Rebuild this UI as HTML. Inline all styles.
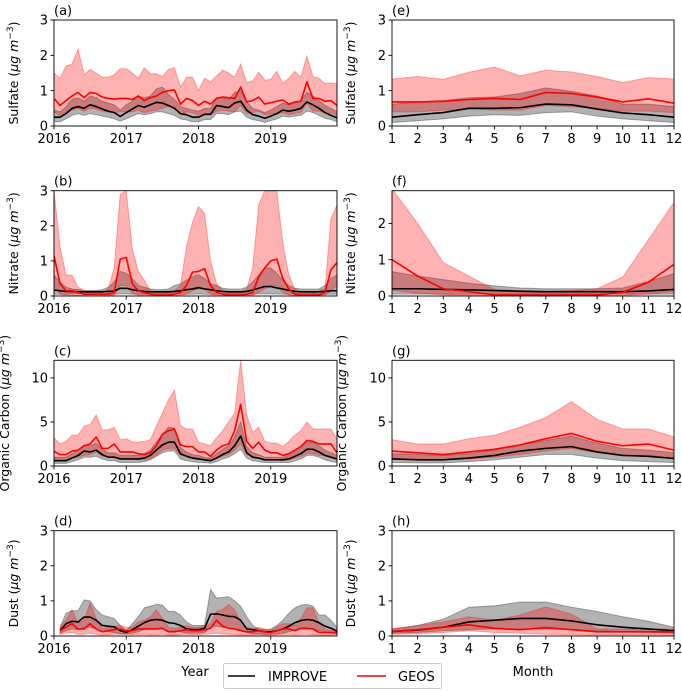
<!DOCTYPE html>
<html><head><meta charset="utf-8"><style>
body{margin:0;background:#fff}
svg{display:block;font-family:"DejaVu Sans","Liberation Sans",sans-serif}
</style></head><body>
<svg id="fig" width="682" height="691" viewBox="0 0 682 691" xmlns="http://www.w3.org/2000/svg"></svg>
<script>
// ---- categories ----
const yearTicks = [2016, 2017, 2018, 2019];
const monthTicks = [1,2,3,4,5,6,7,8,9,10,11,12];
const months = [1,2,3,4,5,6,7,8,9,10,11,12];

// ---- (a) Sulfate time series ----
const sulfImpMean = [0.25,0.25,0.35,0.5,0.55,0.5,0.6,0.55,0.48,0.42,0.38,0.27, 0.38,0.48,0.58,0.53,0.6,0.67,0.65,0.58,0.5,0.35,0.32,0.25, 0.25,0.33,0.33,0.58,0.55,0.52,0.65,0.7,0.45,0.32,0.28,0.22, 0.28,0.35,0.45,0.42,0.45,0.5,0.68,0.6,0.5,0.38,0.3,0.23];
const sulfImpHi = [0.45,0.4,0.55,0.75,0.8,0.7,0.85,0.8,0.7,0.65,0.6,0.45, 0.6,0.7,0.85,0.8,0.85,1.05,1.1,0.9,0.75,0.55,0.5,0.45, 0.42,0.5,0.5,0.8,0.8,0.75,0.95,1.0,0.68,0.5,0.45,0.38, 0.45,0.55,0.65,0.6,0.65,0.72,0.95,0.85,0.72,0.58,0.5,0.4];
const sulfImpLo = [0.12,0.12,0.2,0.3,0.35,0.3,0.35,0.32,0.28,0.25,0.2,0.14, 0.2,0.28,0.35,0.32,0.35,0.4,0.4,0.35,0.3,0.2,0.17,0.12, 0.12,0.18,0.18,0.35,0.35,0.32,0.4,0.42,0.25,0.18,0.15,0.1, 0.15,0.2,0.28,0.25,0.28,0.3,0.42,0.38,0.3,0.22,0.18,0.12];
const sulfGeosMean = [0.78,0.58,0.72,0.85,0.95,0.8,0.95,0.92,0.82,0.78,0.76,0.78, 0.78,0.75,0.85,0.72,0.8,0.85,0.95,1.0,1.02,0.62,0.78,0.72, 0.58,0.7,0.62,0.78,0.82,0.8,0.78,1.1,0.68,0.72,0.82,0.62, 0.66,0.7,0.74,0.62,0.68,0.7,1.25,0.78,0.78,0.7,0.72,0.58];
const sulfGeosHi = [1.5,1.35,1.7,1.75,2.18,1.45,1.6,1.5,1.38,1.38,1.45,1.62, 1.62,1.5,1.35,1.65,1.48,1.48,1.4,1.6,1.65,1.1,1.38,1.38, 1.0,1.35,1.25,1.42,1.58,1.5,1.38,1.75,1.22,1.28,1.52,1.3, 1.32,1.55,1.2,1.35,1.55,1.38,1.98,1.4,1.35,1.2,1.22,1.2];
const sulfGeosLo = [0.4,0.3,0.38,0.45,0.5,0.42,0.5,0.48,0.42,0.4,0.38,0.4, 0.4,0.4,0.45,0.38,0.42,0.45,0.5,0.55,0.55,0.32,0.4,0.38, 0.3,0.36,0.32,0.42,0.45,0.42,0.4,0.58,0.35,0.38,0.42,0.32, 0.34,0.36,0.38,0.32,0.36,0.38,0.65,0.42,0.42,0.36,0.38,0.3];

// ---- (b) Nitrate time series ----
const nitImpMean = [0.17,0.15,0.13,0.13,0.12,0.12,0.12,0.12,0.12,0.13,0.14,0.22, 0.22,0.18,0.15,0.13,0.12,0.12,0.12,0.12,0.13,0.15,0.18,0.2, 0.24,0.2,0.18,0.15,0.13,0.12,0.12,0.12,0.13,0.17,0.22,0.27, 0.27,0.23,0.2,0.16,0.13,0.12,0.12,0.12,0.12,0.13,0.15,0.15];
const nitImpHi = [0.6,0.4,0.25,0.2,0.18,0.16,0.16,0.16,0.18,0.25,0.4,0.7, 0.65,0.5,0.3,0.25,0.2,0.18,0.18,0.2,0.3,0.35,0.45,0.55, 0.6,0.5,0.35,0.3,0.22,0.2,0.2,0.2,0.25,0.4,0.6,0.8, 0.8,0.65,0.45,0.3,0.22,0.2,0.2,0.2,0.2,0.3,0.5,0.6];
const nitImpLo = [0.05,0.05,0.05,0.06,0.06,0.06,0.06,0.06,0.06,0.05,0.05,0.06, 0.06,0.05,0.05,0.05,0.06,0.06,0.06,0.06,0.06,0.05,0.05,0.05, 0.06,0.05,0.05,0.05,0.06,0.06,0.06,0.06,0.05,0.05,0.06,0.06, 0.06,0.06,0.05,0.05,0.06,0.06,0.06,0.06,0.05,0.05,0.05,0.05];
const nitGeosMean = [1.15,0.35,0.15,0.15,0.1,0.05,0.05,0.05,0.05,0.05,0.1,1.05, 1.1,0.35,0.15,0.1,0.05,0.03,0.03,0.03,0.05,0.1,0.3,0.68, 0.7,0.78,0.3,0.1,0.05,0.03,0.03,0.03,0.05,0.1,0.55,0.8, 1.0,1.05,0.5,0.2,0.05,0.03,0.03,0.03,0.03,0.1,0.75,0.95];
const nitGeosHi = [3.0,1.4,0.6,0.6,0.25,0.15,0.1,0.1,0.1,0.2,0.8,2.9, 3.0,1.35,0.7,0.45,0.15,0.1,0.08,0.1,0.15,0.3,1.4,2.1, 2.55,2.35,1.0,0.35,0.15,0.1,0.08,0.1,0.2,0.8,2.6,3.0, 3.0,3.0,1.5,0.6,0.2,0.1,0.08,0.08,0.15,0.2,2.2,2.6];
const nitGeosLo = [0.3,0.05,0.02,0.02,0.01,0.01,0.01,0.01,0.01,0.01,0.02,0.3, 0.3,0.08,0.02,0.02,0.01,0.01,0.01,0.01,0.01,0.02,0.05,0.15, 0.2,0.2,0.05,0.02,0.01,0.01,0.01,0.01,0.01,0.02,0.1,0.2, 0.3,0.3,0.1,0.03,0.01,0.01,0.01,0.01,0.01,0.02,0.15,0.3];

// ---- (c) Organic carbon time series ----
const ocImpMean = [0.6,0.6,0.6,0.9,1.2,1.7,1.6,1.8,1.3,1.0,1.0,0.8, 0.8,0.8,0.8,0.9,1.2,1.8,2.4,2.7,2.7,1.4,1.1,0.9, 0.8,0.7,0.6,0.9,1.3,1.6,2.3,3.4,1.5,1.0,0.9,0.7, 0.7,0.7,0.7,0.8,1.1,1.4,1.9,1.9,1.6,1.2,1.0,0.8];
const ocImpHi = [1.0,1.0,1.0,1.4,1.8,2.4,2.3,2.6,1.9,1.5,1.5,1.2, 1.2,1.2,1.2,1.4,1.8,2.7,3.6,4.4,4.3,2.1,1.6,1.3, 1.2,1.0,0.9,1.4,1.9,2.3,3.3,5.0,2.2,1.5,1.3,1.0, 1.0,1.0,1.0,1.2,1.6,2.0,2.7,2.7,2.3,1.8,1.5,1.2];
const ocImpLo = [0.3,0.3,0.3,0.5,0.7,1.0,1.0,1.1,0.8,0.6,0.6,0.4, 0.4,0.4,0.4,0.5,0.7,1.1,1.5,1.7,1.7,0.8,0.6,0.5, 0.4,0.4,0.3,0.5,0.8,1.0,1.4,1.9,0.9,0.6,0.5,0.4, 0.4,0.4,0.4,0.4,0.6,0.8,1.2,1.2,1.0,0.7,0.5,0.4];
const ocGeosMean = [1.65,1.3,1.3,1.7,1.8,2.3,2.5,3.3,2.0,2.0,2.5,1.6, 1.6,1.6,1.4,1.3,1.5,2.3,3.6,4.0,4.2,2.4,2.2,2.2, 1.6,1.6,1.1,1.8,2.3,2.5,4.0,7.0,2.8,2.0,2.7,1.8, 1.5,1.5,1.2,1.4,1.8,2.2,2.9,2.8,2.5,2.5,2.5,1.5];
const ocGeosHi = [3.2,2.5,2.8,3.5,3.5,4.5,4.7,5.8,4.1,4.1,4.4,3.0, 3.1,2.7,2.7,2.8,3.0,4.5,6.0,7.5,8.6,4.6,4.2,4.2, 2.7,2.5,2.3,3.2,4.0,5.0,6.0,12.0,5.8,3.8,4.4,2.8, 2.6,2.6,2.2,2.8,3.5,4.0,5.0,4.2,4.2,4.2,4.2,3.0];
const ocGeosLo = [0.8,0.7,0.7,0.9,1.0,1.2,1.3,1.6,1.1,1.0,1.1,0.8, 0.8,0.8,0.7,0.7,0.8,1.2,1.8,2.0,2.0,1.2,1.1,1.0, 0.8,0.7,0.6,0.9,1.1,1.3,1.8,2.5,1.3,1.0,1.2,0.9, 0.7,0.7,0.6,0.7,0.9,1.1,1.4,1.4,1.2,1.2,1.1,0.8];

// ---- (d) Dust time series ----
const dustImpMean = [null,0.15,0.35,0.42,0.4,0.54,0.54,0.45,0.3,0.28,0.26,0.15, 0.1,0.18,0.28,0.38,0.45,0.47,0.45,0.38,0.36,0.3,0.2,0.18, 0.18,0.22,0.62,0.63,0.6,0.56,0.55,0.45,0.2,0.18,0.15,0.12, 0.12,0.15,0.2,0.28,0.38,0.44,0.47,0.45,0.38,0.28,0.22,0.14];
const dustImpHi = [null,0.25,0.65,0.72,0.72,1.03,1.0,0.75,0.6,0.55,0.5,0.3, 0.15,0.35,0.55,0.8,0.85,0.9,0.88,0.7,0.7,0.6,0.4,0.3, 0.3,0.3,1.33,1.08,1.1,1.12,1.0,0.85,0.55,0.3,0.2,0.18, 0.2,0.3,0.45,0.65,0.8,0.88,0.9,0.85,0.6,0.6,0.45,0.25];
const dustImpLo = [null,0.08,0.15,0.2,0.18,0.25,0.25,0.2,0.12,0.12,0.1,0.06, 0.05,0.08,0.12,0.18,0.2,0.2,0.2,0.15,0.15,0.12,0.08,0.08, 0.08,0.1,0.25,0.28,0.25,0.22,0.2,0.18,0.1,0.06,0.06,0.05, 0.05,0.06,0.08,0.12,0.18,0.2,0.2,0.2,0.15,0.12,0.08,0.06];
const dustGeosMean = [null,0.15,0.25,0.35,0.2,0.2,0.35,0.2,0.12,0.15,0.18,0.2, 0.15,0.15,0.2,0.2,0.2,0.2,0.22,0.12,0.12,0.15,0.18,0.15, 0.15,0.18,0.22,0.45,0.28,0.22,0.2,0.15,0.12,0.12,0.15,0.12, 0.1,0.15,0.2,0.2,0.15,0.22,0.22,0.2,0.1,0.1,0.1,0.1];
const dustGeosHi = [null,0.25,0.45,0.75,0.35,0.45,0.95,0.5,0.2,0.25,0.28,0.3, 0.25,0.25,0.4,0.45,0.55,0.75,0.5,0.25,0.22,0.25,0.3,0.25, 0.25,0.3,0.35,0.7,0.75,0.9,0.75,0.4,0.25,0.2,0.25,0.2, 0.15,0.25,0.35,0.35,0.3,0.5,0.8,0.8,0.35,0.2,0.15,0.15];
const dustGeosLo = [null,0.05,0.08,0.1,0.05,0.05,0.08,0.05,0.03,0.04,0.05,0.05, 0.05,0.04,0.05,0.05,0.04,0.04,0.05,0.03,0.03,0.04,0.05,0.04, 0.04,0.05,0.06,0.08,0.06,0.05,0.04,0.03,0.03,0.03,0.04,0.03, 0.03,0.04,0.05,0.05,0.04,0.05,0.05,0.04,0.03,0.03,0.03,0.03];

// ---- (e)-(h) monthly climatology ----
const sulfMonImpMean = [0.25,0.32,0.38,0.5,0.5,0.52,0.62,0.6,0.48,0.37,0.32,0.25];
const sulfMonImpHi = [0.62,0.68,0.72,0.8,0.82,0.92,1.08,0.98,0.85,0.62,0.62,0.55];
const sulfMonImpLo = [0.1,0.15,0.2,0.28,0.32,0.3,0.38,0.4,0.28,0.2,0.15,0.1];
const sulfMonGeosMean = [0.68,0.68,0.7,0.75,0.78,0.75,0.95,0.92,0.82,0.68,0.77,0.65];
const sulfMonGeosHi = [1.33,1.4,1.32,1.52,1.67,1.42,1.58,1.53,1.4,1.23,1.37,1.33];
const sulfMonGeosLo = [0.4,0.4,0.45,0.48,0.45,0.45,0.58,0.55,0.5,0.42,0.42,0.38];

const nitMonImpMean = [0.2,0.2,0.18,0.17,0.15,0.13,0.12,0.12,0.12,0.12,0.14,0.18];
const nitMonImpHi = [0.67,0.55,0.45,0.35,0.28,0.22,0.2,0.2,0.2,0.22,0.4,0.62];
const nitMonImpLo = [0.05,0.05,0.05,0.05,0.06,0.06,0.06,0.06,0.06,0.05,0.05,0.05];
const nitMonGeosMean = [1.0,0.55,0.2,0.12,0.03,0.03,0.03,0.03,0.03,0.1,0.38,0.87];
const nitMonGeosHi = [2.95,2.0,0.92,0.55,0.18,0.15,0.12,0.15,0.2,0.52,1.55,2.58];
const nitMonGeosLo = [0.15,0.08,0.03,0.02,0.01,0.01,0.01,0.01,0.01,0.02,0.05,0.12];

const ocMonImpMean = [0.8,0.7,0.7,0.9,1.2,1.7,2.0,2.2,1.6,1.2,1.1,0.85];
const ocMonImpHi = [1.4,1.3,1.2,1.4,1.8,2.4,2.9,3.4,2.6,2.0,1.8,1.5];
const ocMonImpLo = [0.4,0.35,0.35,0.5,0.7,1.0,1.3,1.3,0.9,0.6,0.5,0.4];
const ocMonGeosMean = [1.7,1.5,1.3,1.6,1.9,2.4,3.1,3.7,2.8,2.3,2.5,1.8];
const ocMonGeosHi = [3.0,2.5,2.5,3.1,3.5,4.4,5.5,7.3,5.3,4.2,4.2,3.3];
const ocMonGeosLo = [0.9,0.8,0.7,0.8,1.0,1.3,1.7,2.0,1.5,1.2,1.2,0.9];

const dustMonImpMean = [0.13,0.17,0.25,0.4,0.45,0.5,0.5,0.43,0.32,0.25,0.2,0.15];
const dustMonImpHi = [0.2,0.3,0.48,0.82,0.86,0.97,0.97,0.82,0.7,0.55,0.42,0.25];
const dustMonImpLo = [0.08,0.1,0.15,0.18,0.2,0.2,0.2,0.18,0.15,0.12,0.1,0.08];
const dustMonGeosMean = [0.13,0.18,0.25,0.32,0.22,0.18,0.24,0.18,0.12,0.12,0.12,0.12];
const dustMonGeosHi = [0.2,0.3,0.4,0.55,0.45,0.6,0.83,0.62,0.2,0.2,0.2,0.2];
const dustMonGeosLo = [0.05,0.06,0.1,0.15,0.1,0.08,0.05,0.04,0.03,0.03,0.03,0.03];

const NS = 'http://www.w3.org/2000/svg';
const svg = document.getElementById('fig');
function mk(tag, parent){ const e = document.createElementNS(NS, tag); parent.appendChild(e); return e; }

const rows = [{top:20,bot:126},{top:190.7,bot:296},{top:360.3,bot:466},{top:530.7,bot:636}];
const LEFT = {x0:54, x1:337};
const RIGHT = {x0:392, x1:674};

function drawPanel(o){
  const g = mk('g', svg);
  
  
  const X = v => o.x0 + (v - o.xmin) / (o.xmax - o.xmin) * (o.x1 - o.x0);
  const Y = v => o.bot - (v - 0) / o.ymax * (o.bot - o.top);
  const xs = o.xs;
  const clipId = 'clip-' + o.name;
  const cp = mk('clipPath', g); cp.setAttribute('id', clipId);
  const cr = mk('rect', cp);
  cr.setAttribute('x', o.x0); cr.setAttribute('y', o.top); cr.setAttribute('width', o.x1 - o.x0); cr.setAttribute('height', o.bot - o.top);
  const plot = mk('g', g); plot.setAttribute('clip-path', 'url(#' + clipId + ')');
  function band(lo, hi, fill, stroke, nm){
    const idx = xs.map((_, i) => i).filter(i => lo[i] != null && hi[i] != null);
    let d = idx.map((i, k) => (k ? 'L' : 'M') + X(xs[i]).toFixed(2) + ',' + Y(hi[i]).toFixed(2)).join('');
    d += idx.slice().reverse().map(i => 'L' + X(xs[i]).toFixed(2) + ',' + Y(lo[i]).toFixed(2)).join('') + 'Z';
    const p = mk('path', plot);
    
    
    p.setAttribute('d', d); p.setAttribute('fill', fill); p.setAttribute('fill-opacity', '0.3');
    p.setAttribute('stroke', stroke); p.setAttribute('stroke-opacity', '0.3'); p.setAttribute('stroke-width', '1');
  }
  function line(vals, color, nm){
    const idx = xs.map((_, i) => i).filter(i => vals[i] != null);
    const d = idx.map((i, k) => (k ? 'L' : 'M') + X(xs[i]).toFixed(2) + ',' + Y(vals[i]).toFixed(2)).join('');
    const p = mk('path', plot);
    
    
    p.setAttribute('d', d); p.setAttribute('fill', 'none'); p.setAttribute('stroke', color); p.setAttribute('stroke-width', '1.6');
    p.setAttribute('stroke-linejoin', 'round');
  }
  band(o.imp[1], o.imp[2], '#000000', '#000000', 'improve-range-band');
  band(o.geos[1], o.geos[2], '#ff0000', '#ff0000', 'geos-range-band');
  line(o.imp[0], '#000000', 'improve-mean-line');
  line(o.geos[0], '#ff0000', 'geos-mean-line');
  const fr = mk('rect', g);
  
  
  fr.setAttribute('x', o.x0); fr.setAttribute('y', o.top); fr.setAttribute('width', o.x1 - o.x0); fr.setAttribute('height', o.bot - o.top);
  fr.setAttribute('fill', 'none'); fr.setAttribute('stroke', '#000'); fr.setAttribute('stroke-width', '0.9');
  o.xticks.forEach(t => {
    const x = X(t);
    const l = mk('line', g);
    l.setAttribute('x1', x); l.setAttribute('x2', x); l.setAttribute('y1', o.bot); l.setAttribute('y2', o.bot + 3.5);
    l.setAttribute('stroke', '#000'); l.setAttribute('stroke-width', '0.9');
    const tx = mk('text', g);
    
    
    tx.setAttribute('x', x); tx.setAttribute('y', o.bot + 17); tx.setAttribute('font-size', '13'); tx.setAttribute('text-anchor', 'middle');
    tx.textContent = t;
  });
  o.yticks.forEach(t => {
    const y = Y(t);
    const l = mk('line', g);
    l.setAttribute('x1', o.x0 - 3.5); l.setAttribute('x2', o.x0); l.setAttribute('y1', y); l.setAttribute('y2', y);
    l.setAttribute('stroke', '#000'); l.setAttribute('stroke-width', '0.9');
    const tx = mk('text', g);
    
    
    tx.setAttribute('x', o.x0 - 6); tx.setAttribute('y', y + 4.7); tx.setAttribute('font-size', '13'); tx.setAttribute('text-anchor', 'end');
    tx.textContent = t;
  });
  const pl = mk('text', g);
  
  
  pl.setAttribute('x', o.x0); pl.setAttribute('y', o.top - 5); pl.setAttribute('font-size', '13');
  pl.textContent = o.label;
  const cy = (o.top + o.bot) / 2;
  const yt = mk('text', g);
  
  
  yt.setAttribute('transform', 'translate(' + o.ylx + ',' + cy + ') rotate(-90)');
  yt.setAttribute('font-size', '12.5'); yt.setAttribute('text-anchor', 'middle');
  yt.innerHTML = o.ytitle + ' (<tspan font-style="italic">μg m</tspan><tspan font-size="9" dy="-5">−3</tspan><tspan dy="5">)</tspan>';
}

const tsX = Array.from({length:48}, (_, i) => 2016 + i / 12);
const leftCommon = {x0:LEFT.x0, x1:LEFT.x1, xmin:2016, xmax:2016 + 47/12, xs:tsX, xticks:yearTicks, ylx:18};
const rightCommon = {x0:RIGHT.x0, x1:RIGHT.x1, xmin:1, xmax:12, xs:months, xticks:monthTicks, ylx:355};

const panels = [
  Object.assign({}, leftCommon, rows[0], {name:'panel-a-sulfate-timeseries', label:'(a)', ytitle:'Sulfate', ymax:3, yticks:[0,1,2,3], imp:[sulfImpMean,sulfImpLo,sulfImpHi], geos:[sulfGeosMean,sulfGeosLo,sulfGeosHi]}),
  Object.assign({}, leftCommon, rows[1], {name:'panel-b-nitrate-timeseries', label:'(b)', ytitle:'Nitrate', ymax:3, yticks:[0,1,2,3], imp:[nitImpMean,nitImpLo,nitImpHi], geos:[nitGeosMean,nitGeosLo,nitGeosHi]}),
  Object.assign({}, leftCommon, rows[2], {name:'panel-c-oc-timeseries', label:'(c)', ytitle:'Organic Carbon', ymax:12, yticks:[0,5,10], ylx:9, imp:[ocImpMean,ocImpLo,ocImpHi], geos:[ocGeosMean,ocGeosLo,ocGeosHi]}),
  Object.assign({}, leftCommon, rows[3], {name:'panel-d-dust-timeseries', label:'(d)', ytitle:'Dust', ymax:3, yticks:[0,1,2,3], imp:[dustImpMean,dustImpLo,dustImpHi], geos:[dustGeosMean,dustGeosLo,dustGeosHi]}),
  Object.assign({}, rightCommon, rows[0], {name:'panel-e-sulfate-monthly', label:'(e)', ytitle:'Sulfate', ymax:3, yticks:[0,1,2,3], imp:[sulfMonImpMean,sulfMonImpLo,sulfMonImpHi], geos:[sulfMonGeosMean,sulfMonGeosLo,sulfMonGeosHi]}),
  Object.assign({}, rightCommon, rows[1], {name:'panel-f-nitrate-monthly', label:'(f)', ytitle:'Nitrate', ymax:2.9, yticks:[0,1,2], imp:[nitMonImpMean,nitMonImpLo,nitMonImpHi], geos:[nitMonGeosMean,nitMonGeosLo,nitMonGeosHi]}),
  Object.assign({}, rightCommon, rows[2], {name:'panel-g-oc-monthly', label:'(g)', ytitle:'Organic Carbon', ymax:12, yticks:[0,5,10], ylx:346, imp:[ocMonImpMean,ocMonImpLo,ocMonImpHi], geos:[ocMonGeosMean,ocMonGeosLo,ocMonGeosHi]}),
  Object.assign({}, rightCommon, rows[3], {name:'panel-h-dust-monthly', label:'(h)', ytitle:'Dust', ymax:3, yticks:[0,1,2,3], imp:[dustMonImpMean,dustMonImpLo,dustMonImpHi], geos:[dustMonGeosMean,dustMonGeosLo,dustMonGeosHi]})
];
panels.forEach(drawPanel);

const xt1 = mk('text', svg);


xt1.setAttribute('x', 195); xt1.setAttribute('y', 676); xt1.setAttribute('font-size', '13'); xt1.setAttribute('text-anchor', 'middle');
xt1.textContent = 'Year';
const xt2 = mk('text', svg);


xt2.setAttribute('x', 533); xt2.setAttribute('y', 676); xt2.setAttribute('font-size', '13'); xt2.setAttribute('text-anchor', 'middle');
xt2.textContent = 'Month';

const lg = mk('g', svg);


const lb = mk('rect', lg);
lb.setAttribute('x', 223.5); lb.setAttribute('y', 663.5); lb.setAttribute('width', 218); lb.setAttribute('height', 25); lb.setAttribute('rx', 2);
lb.setAttribute('fill', '#fff'); lb.setAttribute('stroke', '#ccc');
const e1 = mk('line', lg);


e1.setAttribute('x1', 228); e1.setAttribute('x2', 255); e1.setAttribute('y1', 676); e1.setAttribute('y2', 676); e1.setAttribute('stroke', '#000'); e1.setAttribute('stroke-width', '1.6');
const t1 = mk('text', lg);


t1.setAttribute('x', 268); t1.setAttribute('y', 681); t1.setAttribute('font-size', '13');
t1.textContent = 'IMPROVE';
const e2 = mk('line', lg);


e2.setAttribute('x1', 357); e2.setAttribute('x2', 386); e2.setAttribute('y1', 676); e2.setAttribute('y2', 676); e2.setAttribute('stroke', '#f00'); e2.setAttribute('stroke-width', '1.6');
const t2 = mk('text', lg);


t2.setAttribute('x', 398); t2.setAttribute('y', 681); t2.setAttribute('font-size', '13');
t2.textContent = 'GEOS';
</script>
</body></html>
